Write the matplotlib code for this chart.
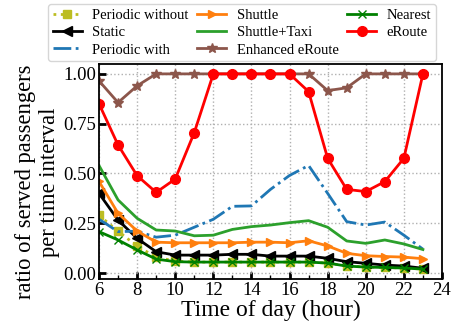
import matplotlib
matplotlib.use("Agg")
import matplotlib.pyplot as plt
from matplotlib.ticker import MultipleLocator

hours = list(range(6, 24))

periodic_without = [0.29, 0.21, 0.135, 0.08, 0.06, 0.055, 0.055, 0.055, 0.055, 0.055, 0.055, 0.055, 0.05, 0.035, 0.03, 0.028, 0.025, 0.02]
static = [0.40, 0.266, 0.174, 0.107, 0.09, 0.09, 0.09, 0.094, 0.094, 0.085, 0.085, 0.085, 0.074, 0.057, 0.049, 0.04, 0.035, 0.024]
periodic_with = [0.27, 0.208, 0.21, 0.18, 0.19, 0.23, 0.27, 0.335, 0.337, 0.42, 0.49, 0.54, 0.40, 0.258, 0.241, 0.256, 0.19, 0.12]
shuttle = [0.46, 0.30, 0.211, 0.155, 0.152, 0.152, 0.152, 0.152, 0.155, 0.155, 0.152, 0.162, 0.136, 0.099, 0.087, 0.083, 0.08, 0.072]
shuttle_taxi = [0.54, 0.367, 0.275, 0.216, 0.211, 0.187, 0.19, 0.219, 0.233, 0.241, 0.253, 0.263, 0.23, 0.161, 0.149, 0.166, 0.146, 0.118]
enhanced = [0.965, 0.856, 0.94, 1.0, 1.0, 1.0, 1.0, 1.0, 1.0, 1.0, 1.0, 1.0, 0.916, 0.93, 1.0, 1.0, 1.0, 1.0]
nearest = [0.208, 0.166, 0.116, 0.07, 0.057, 0.055, 0.055, 0.055, 0.055, 0.055, 0.055, 0.055, 0.05, 0.035, 0.03, 0.028, 0.025, 0.02]
eroute = [0.85, 0.643, 0.489, 0.405, 0.472, 0.705, 1.0, 1.0, 1.0, 1.0, 1.0, 0.911, 0.576, 0.42, 0.409, 0.459, 0.576, 1.0]

plt.rcParams['font.family'] = ['Liberation Serif', 'DejaVu Serif']
plt.rcParams['mathtext.fontset'] = 'stix'

fig = plt.figure(figsize=(4.51, 3.22), dpi=100)
ax = fig.add_axes([0.2195, 0.1335, 0.7605, 0.668])

lw = 2
ax.plot(hours, periodic_without, ':', color='#bcbd22', marker='s', ms=6, lw=lw, label='Periodic without')
ax.plot(hours, static, '-', color='black', marker='<', ms=7, lw=lw, label='Static')
ax.plot(hours, periodic_with, '-.', color='#1f77b4', lw=lw, label='Periodic with')
ax.plot(hours, shuttle, '-', color='#ff7f0e', marker='>', ms=6, lw=lw, label='Shuttle')
ax.plot(hours, shuttle_taxi, '-', color='#2ca02c', lw=lw, label='Shuttle+Taxi')
ax.plot(hours, enhanced, '-', color='#8c564b', marker='*', ms=7, lw=lw, label='Enhanced eRoute')
ax.plot(hours, nearest, '-', color='green', marker='x', ms=6, lw=lw, label='Nearest')
ax.plot(hours, eroute, '-', color='red', marker='o', ms=7, lw=lw, label='eRoute')

ax.set_xlim(6, 24)
ax.set_ylim(-0.03, 1.05)
ax.xaxis.set_major_locator(MultipleLocator(2))
ax.xaxis.set_minor_locator(MultipleLocator(1))
ax.set_yticks([0, 0.25, 0.5, 0.75, 1.0])
ax.set_yticklabels(['0.00', '0.25', '0.50', '0.75', '1.00'])
ax.tick_params(axis='both', which='major', direction='in', length=5, width=2, labelsize=13.5, pad=2)
ax.tick_params(axis='x', which='minor', direction='in', length=3, width=1)
ax.grid(True, which='major', linestyle=':', color='#b0b0b0', linewidth=1)
for s in ax.spines.values():
    s.set_linewidth(1.3)

ax.set_xlabel('Time of day (hour)', fontsize=17, labelpad=1)
ax.set_ylabel('ratio of served passengers\nper time interval', fontsize=16.3, labelpad=2, linespacing=1.15)
ax.yaxis.set_label_coords(-0.114, 0.45)

ax.legend(loc='lower center', bbox_to_anchor=(0.417, 0.98), ncol=3, fontsize=10.5,
          handlelength=2, columnspacing=0.6, labelspacing=0.28, handletextpad=0.7,
          borderpad=0.3, frameon=True, fancybox=True)

fig.savefig('out.png', dpi=100)
